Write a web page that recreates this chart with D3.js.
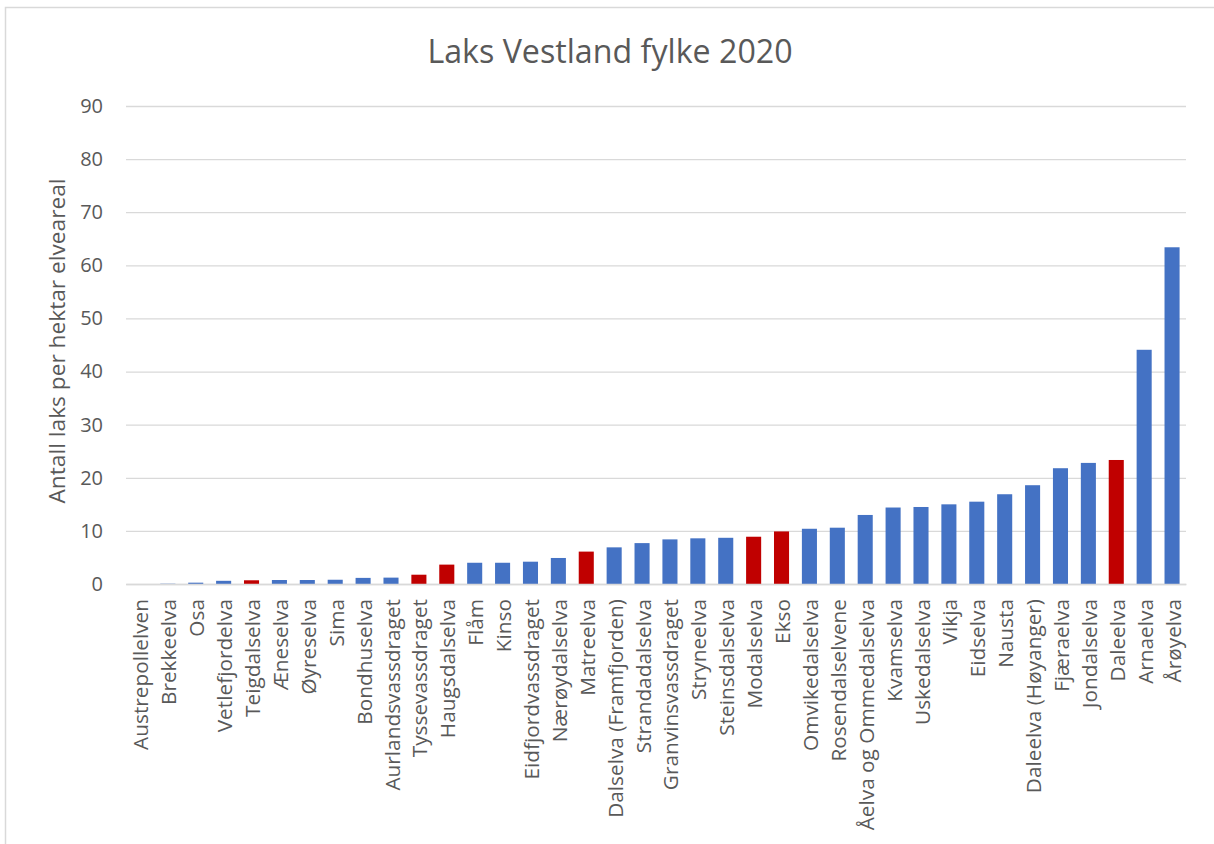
<!DOCTYPE html>
<html>
<head>
<meta charset="utf-8">
<script src="https://cdn.jsdelivr.net/npm/d3@7"></script>
<style>
  body { margin: 0; background: #fff; }
  svg text { font-family: 'Open Sans', sans-serif; fill: #595959; }
</style>
</head>
<body>
<svg width="1214" height="844"></svg>
<script>
const svg = d3.select('svg');
const width = +svg.attr('width');
const height = +svg.attr('height');

// elver, sortert etter antall laks per hektar
const rivers = [
    'Austrepollelven', 'Brekkeelva', 'Osa', 'Vetlefjordelva', 'Teigdalselva',
    'Æneselva', 'Øyreselva', 'Sima', 'Bondhuselva', 'Aurlandsvassdraget',
    'Tyssevassdraget', 'Haugsdalselva', 'Flåm', 'Kinso', 'Eidfjordvassdraget',
    'Nærøydalselva', 'Matreelva', 'Dalselva (Framfjorden)', 'Strandadalselva',
    'Granvinsvassdraget', 'Stryneelva', 'Steinsdalselva', 'Modalselva', 'Ekso',
    'Omvikedalselva', 'Rosendalselvene', 'Åelva og Ommedalselva', 'Kvamselva',
    'Uskedalselva', 'Vikja', 'Eidselva', 'Nausta', 'Daleelva (Høyanger)',
    'Fjæraelva', 'Jondalselva', 'Daleelva', 'Arnaelva', 'Årøyelva'
];

const values = [
    0, 0.05, 0.25, 0.6, 0.7,
    0.75, 0.75, 0.8, 1.15, 1.2,
    1.75, 3.65, 4.0, 4.0, 4.2,
    4.9, 6.1, 6.9, 7.7,
    8.4, 8.6, 8.7, 8.9, 9.9,
    10.4, 10.6, 13.0, 14.4,
    14.5, 15.0, 15.5, 16.9, 18.6,
    21.8, 22.8, 23.35, 44.1, 63.4
];

// røde søyler
const highlighted = ['Teigdalselva', 'Tyssevassdraget', 'Haugsdalselva', 'Matreelva', 'Modalselva', 'Ekso', 'Daleelva'];

const yTicks = [0, 10, 20, 30, 40, 50, 60, 70, 80, 90];

const title = 'Laks Vestland fylke 2020';
const yLabel = 'Antall laks per hektar elveareal';

const data = rivers.map((r, i) => ({ river: r, value: values[i] }));

const margin = { top: 106, right: 28, bottom: 260, left: 126 };
const innerWidth = width - margin.left - margin.right;
const innerHeight = height - margin.top - margin.bottom;

// ramme
svg.append('rect')
    .attr('x', 5.5).attr('y', 7.5)
    .attr('width', width + 20).attr('height', height + 20)
    .attr('fill', 'none')
    .attr('stroke', '#d9d9d9')
    .attr('stroke-width', 1.5);

const g = svg.append('g')
    .attr('transform', `translate(${margin.left},${margin.top})`);

const x = d3.scaleBand()
    .domain(rivers)
    .range([0, innerWidth])
    .paddingInner(0.46)
    .paddingOuter(0.23);

const y = d3.scaleLinear()
    .domain([0, 90])
    .range([innerHeight, 0]);

// rutenett + y-akse
const yAxis = d3.axisLeft(y)
    .tickValues(yTicks)
    .tickSize(-innerWidth)
    .tickPadding(23);

const yAxisG = g.append('g').call(yAxis);
yAxisG.select('.domain').remove();
yAxisG.selectAll('line').attr('stroke', '#d9d9d9').attr('stroke-width', 1.3);
yAxisG.selectAll('text')
    .style('font-size', '20px')
    .style('font-family', "'Open Sans', sans-serif")
    .attr('fill', '#595959');

// søyler
g.selectAll('.bar').data(data).enter()
    .append('rect')
        .attr('class', 'bar')
        .attr('x', d => x(d.river))
        .attr('y', d => y(d.value))
        .attr('width', x.bandwidth())
        .attr('height', d => innerHeight - y(d.value))
        .attr('fill', d => highlighted.includes(d.river) ? '#C00000' : '#4472C4');

// x-akse
const xAxisG = g.append('g')
    .attr('transform', `translate(0,${innerHeight})`)
    .call(d3.axisBottom(x).tickSize(0).tickPadding(0));
xAxisG.select('.domain').attr('stroke', '#d9d9d9').attr('stroke-width', 1.3);
xAxisG.selectAll('text')
    .style('font-size', '20.8px')
    .style('font-family', "'Open Sans', sans-serif")
    .attr('fill', '#595959')
    .attr('text-anchor', 'end')
    .attr('dy', '0.36em')
    .attr('transform', 'translate(1,15) rotate(-90)')
    .attr('x', 0).attr('y', 0);

// aksetittel
svg.append('text')
    .attr('transform', `translate(57,341) rotate(-90)`)
    .attr('text-anchor', 'middle')
    .attr('dy', '0.35em')
    .style('font-size', '22.7px')
    .text(yLabel);

// tittel
svg.append('text')
    .attr('x', 610)
    .attr('y', 62.5)
    .attr('text-anchor', 'middle')
    .style('font-size', '32.2px')
    .text(title);
</script>
</body>
</html>
